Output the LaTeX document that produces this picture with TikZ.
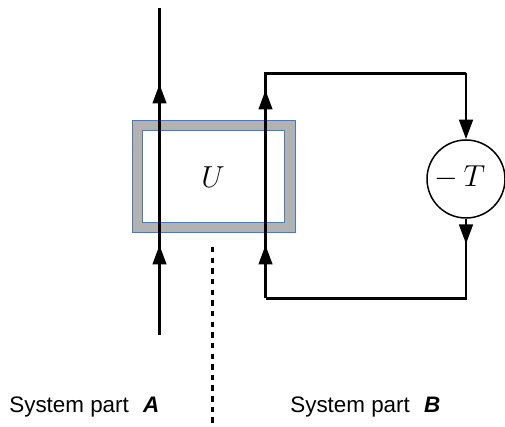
\documentclass[tikz,border=0pt]{standalone}
\usepackage{fontspec}
\setmainfont{Liberation Sans}
\usepackage{amsmath}
\usetikzlibrary{arrows.meta, calc, positioning}
\definecolor{boxedge}{RGB}{79,120,185}

\begin{document}
\begin{tikzpicture}[x=0.2mm, y=-0.2mm, >={Triangle[length=3.9mm,width=2.7mm]},
    wire/.style={line width=0.58mm},
    sidelabel/.style={font=\fontsize{12.75}{15}\selectfont, anchor=base west, inner sep=0pt},
    mathlabel/.style={font=\fontsize{17}{20}\selectfont}]

            \useasboundingbox (0,0) rectangle (505,427);

            % Unitary box
            \draw[fill=black!30, draw=boxedge, line width=0.2mm] (132,121) rectangle (295,233);
            \draw[fill=white, draw=boxedge, line width=0.2mm] (142,131) rectangle (284,223);
            \node[mathlabel] (u) at (213,177) {$U$};

            \node[draw, circle, line width=0.3mm, minimum size=15.6mm, inner sep=0pt] (t) at (466,179) {};
            \node[font=\fontsize{16}{20}\selectfont] (tlabel) at (460,177) {$-\,T$};

            \coordinate (atop) at (159.5,8);
            \coordinate (amid) at (159.5,84);
            \coordinate (alow) at (159.5,245);
            \coordinate (abot) at (159.5,335);

            \coordinate (bmid) at (265.5,90);
            \coordinate (blow) at (265.5,245);
            \coordinate (bbl) at (265.5,298.5);
            \coordinate (btl) at (265.5,73.5);
            \coordinate (btr) at (466,73.5);
            \coordinate (bbr) at (466,298.5);
            \coordinate (tout) at (466,244);

            % System part A
            \draw[wire] (atop) -- (abot);
            \draw[wire,->] (alow) -- (amid);
            \draw[wire,->] (abot) -- (alow);

            % System part B
            \draw[wire] (bbl) -- (btl) -- (btr);
            \draw[wire,->] (btr) -- (t);
            \draw[wire] (t) -- (bbr) -- (bbl);
            \draw[wire,->] (blow) -- (bmid);
            \draw[wire,->] (bbl) -- (blow);
            \draw[wire,->] (t) -- (tout);

            % Partition
            \coordinate (cuttop) at (212,247);
            \coordinate (cutbot) at (212,425);
            \draw[line width=0.6mm, dash pattern=on 1.1mm off 1.03mm] (cuttop) -- (cutbot);

            \node[sidelabel] (parta) at (9,412) {System part\ \ \kern1pt\textbf{\textit{A}}};
            \node[sidelabel] (partb) at (290,412) {System part\ \ \kern1pt\textbf{\textit{B}}};

        \end{tikzpicture}
\end{document}
